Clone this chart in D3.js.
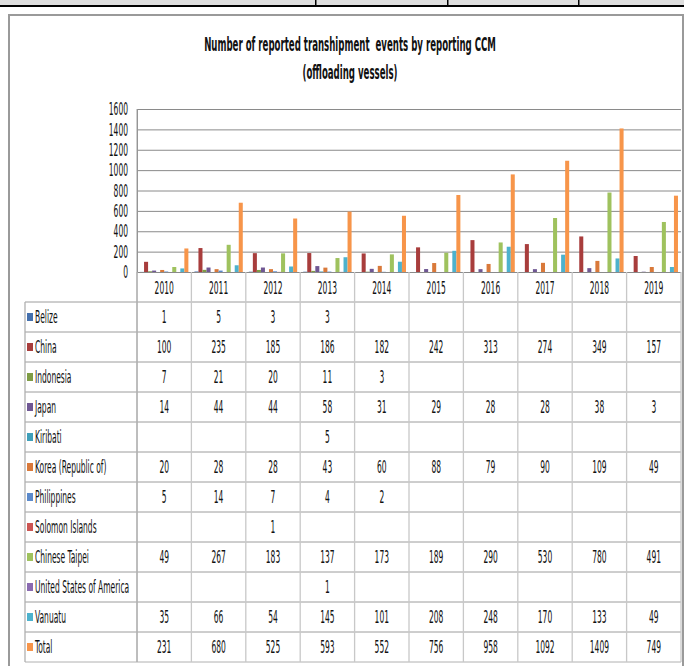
<!DOCTYPE html>
<html><head><meta charset="utf-8">
<script src="https://cdn.jsdelivr.net/npm/d3@7"></script>
<style>
html,body{margin:0;padding:0;background:#fff;}
svg{display:block;}
text{font-family:"Liberation Sans Narrow","DejaVu Sans Condensed","Liberation Sans",sans-serif;fill:#111;white-space:pre;}
</style></head>
<body>
<script>
// ---- data ----
const years = ["2010","2011","2012","2013","2014","2015","2016","2017","2018","2019"];
const seriesNames = ["Belize","China","Indonesia","Japan","Kiribati","Korea (Republic of)","Philippines","Solomon Islands","Chinese Taipei","United States of America","Vanuatu","Total"];
const belize      = [1,5,3,3,null,null,null,null,null,null];
const china       = [100,235,185,186,182,242,313,274,349,157];
const indonesia   = [7,21,20,11,3,null,null,null,null,null];
const japan       = [14,44,44,58,31,29,28,28,38,3];
const kiribati    = [null,null,null,5,null,null,null,null,null,null];
const korea       = [20,28,28,43,60,88,79,90,109,49];
const philippines = [5,14,7,4,2,null,null,null,null,null];
const solomon     = [null,null,1,null,null,null,null,null,null,null];
const taipei      = [49,267,183,137,173,189,290,530,780,491];
const usa         = [null,null,null,1,null,null,null,null,null,null];
const vanuatu     = [35,66,54,145,101,208,248,170,133,49];
const total       = [231,680,525,593,552,756,958,1092,1409,749];
const yTicks = [0,200,400,600,800,1000,1200,1400,1600];
const titleLines = ["Number of reported transhipment  events by reporting CCM","(offloading vessels)"];

const seriesValues = [belize,china,indonesia,japan,kiribati,korea,philippines,solomon,taipei,usa,vanuatu,total];
const colors = ["#4470AD","#A83D3C","#7E9C45","#6F5793","#3F9FB9","#D9793A","#5B8ACB","#CC5552","#9FC25E","#8A6AB0","#4DB2CD","#F7954A"];
const series = seriesNames.map((n,i)=>({name:n, values:seriesValues[i], color:colors[i]}));

// ---- layout ----
const W=684, H=666;
const plotL=137, plotR=681, plotT=109, plotB=272;
const rowH=30, tableTop=302, tableL=25;

const svg = d3.select("body").append("svg").attr("width",W).attr("height",H);

// top strip (page fragment)
svg.append("rect").attr("x",0).attr("y",0).attr("width",W).attr("height",5).attr("fill","#dedede");
svg.append("rect").attr("x",0).attr("y",5).attr("width",W).attr("height",2).attr("fill","#000");
[315,447,578].forEach(xv=>svg.append("rect").attr("x",xv).attr("y",0).attr("width",1.5).attr("height",6).attr("fill","#000"));

// outer frame
svg.append("rect").attr("x",9).attr("y",15).attr("width",674).attr("height",660)
  .attr("fill","none").attr("stroke","#9a9a9a").attr("stroke-width",2);

// calibration for condensed text
function measure(str, size, weight){
  const t = svg.append("text").attr("font-size",size).attr("font-weight",weight||"normal").text(str);
  const w = t.node().getComputedTextLength(); t.remove(); return w;
}
const fs = 17;
const sx = (4.8*10)/measure("0123456789", fs);

function ctext(g, str, x, yv, anchor, size, scale, weight){
  return g.append("text").text(str)
    .attr("font-size",size).attr("font-weight",weight||"normal")
    .attr("text-anchor",anchor).attr("dominant-baseline","central")
    .attr("transform",`translate(${x},${yv}) scale(${scale},1)`);
}

// title
const tfs = 19;
const tsx = 292/measure(titleLines[0],tfs,"bold");
ctext(svg,titleLines[0],350,45,"middle",tfs,tsx,"bold");
ctext(svg,titleLines[1],350,73,"middle",tfs,tsx,"bold");

// scales
const x = d3.scaleBand().domain(years).range([plotL,plotR]).padding(0);
const xs = d3.scaleBand().domain(seriesNames).range([0,x.bandwidth()]).paddingInner(0).paddingOuter(0.75);
const y = d3.scaleLinear().domain([0,1600]).range([plotB,plotT]);

// gridlines via axis
const ax = svg.append("g").attr("transform",`translate(${plotL},0)`)
  .call(d3.axisLeft(y).tickValues(yTicks).tickSizeInner(-(plotR-plotL)).tickSizeOuter(0).tickFormat(d3.format("d")));
ax.select(".domain").attr("stroke","#8a8a8a");
ax.selectAll(".tick line").attr("stroke","#8a8a8a").attr("stroke-width",1);
ax.selectAll(".tick text").each(function(d){
  const t=d3.select(this);
  t.attr("x",null).attr("dy",null).attr("font-size",fs).attr("font-family",null)
   .attr("text-anchor","end").attr("dominant-baseline","central")
   .attr("transform",`translate(-9,0) scale(${sx},1)`).attr("fill","#111");
});

// bars
const gb = svg.append("g");
series.forEach(s=>{
  gb.selectAll(null).data(years.map((yr,i)=>({yr, v:s.values[i]})).filter(d=>d.v!=null))
    .enter().append("rect")
    .attr("x",d=>x(d.yr)+xs(s.name))
    .attr("width",xs.bandwidth())
    .attr("y",d=>y(d.v))
    .attr("height",d=>plotB-y(d.v))
    .attr("fill",s.color);
});

// data table
const tb = svg.append("g");
const tableBottom = tableTop + rowH*series.length;
for(let r=0;r<=series.length;r++){
  tb.append("line").attr("x1",tableL).attr("x2",plotR)
    .attr("y1",tableTop+r*rowH).attr("y2",tableTop+r*rowH)
    .attr("stroke", r===series.length? "#b0b0b0":"#9c9c9c").attr("stroke-width",1);
}
years.forEach(yr=>{
  tb.append("line").attr("x1",x(yr)).attr("x2",x(yr)).attr("y1",plotB).attr("y2",tableBottom)
    .attr("stroke","#c8c8c8").attr("stroke-width",1.3);
});
tb.append("line").attr("x1",plotR).attr("x2",plotR).attr("y1",plotB).attr("y2",tableBottom).attr("stroke","#c8c8c8").attr("stroke-width",1.3);
tb.append("line").attr("x1",tableL).attr("x2",tableL).attr("y1",tableTop).attr("y2",tableBottom).attr("stroke","#b0b0b0").attr("stroke-width",1.3);
tb.append("line").attr("x1",plotL).attr("x2",plotL).attr("y1",plotT).attr("y2",tableBottom).attr("stroke","#a0a0a0").attr("stroke-width",1);

// year labels
years.forEach(yr=>ctext(tb,yr,x(yr)+x.bandwidth()/2,(plotB+tableTop)/2+1,"middle",fs,sx));
// rows
series.forEach((s,r)=>{
  const cy = tableTop + r*rowH + rowH/2;
  tb.append("rect").attr("x",27).attr("y",cy-4).attr("width",6).attr("height",8).attr("fill",s.color);
  ctext(tb,s.name,35,cy,"start",fs,sx);
  s.values.forEach((v,i)=>{
    if(v!=null) ctext(tb,String(v),x(years[i])+x.bandwidth()/2,cy,"middle",fs,sx);
  });
});
</script>
</body></html>
